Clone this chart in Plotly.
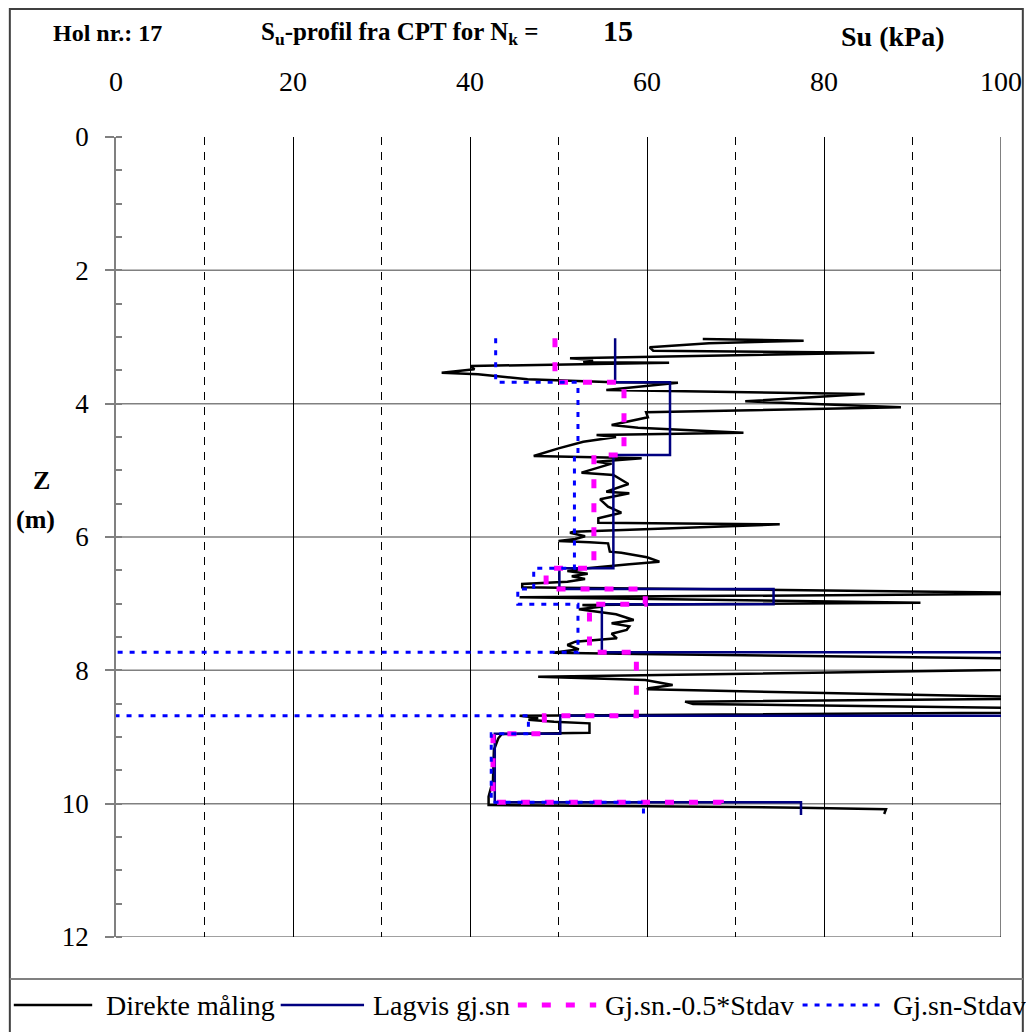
import plotly.graph_objects as go

# ---------------- data ----------------
# Direkte måling (CPT-derived Su), depth in m, Su in kPa
z_direct = [3.03, 3.055, 3.095, 3.155, 3.205, 3.235, 3.32, 3.345, 3.38, 3.385,
            3.435, 3.485, 3.535, 3.56, 3.635, 3.68, 3.685, 3.795, 3.855, 3.965,
            4.055, 4.13, 4.205, 4.32, 4.36, 4.435, 4.47, 4.5, 4.57, 4.67,
            4.785, 4.82, 4.87, 4.9, 5.035, 5.07, 5.205, 5.32, 5.345, 5.435,
            5.545, 5.635, 5.72, 5.785, 5.81, 5.92, 5.935, 5.99, 6.03, 6.06,
            6.08, 6.095, 6.22, 6.235, 6.305, 6.37, 6.41, 6.47, 6.51, 6.55,
            6.59, 6.63, 6.67, 6.705, 6.755, 6.76, 6.845, 6.905, 6.985, 7.02,
            7.045, 7.085, 7.16, 7.245, 7.295, 7.34, 7.395, 7.45, 7.52, 7.57,
            7.62, 7.685, 7.735, 7.755, 7.90, 8.095, 8.145, 8.22, 8.27, 8.285,
            8.42, 8.47, 8.505, 8.61, 8.68, 8.71, 8.74, 8.77, 8.795, 8.935,
            8.955, 9.02, 9.195, 9.645, 9.895, 10.02, 10.04, 10.06, 10.085, 10.155]
su_direct = [66.3, 77.7, 67.0, 60.3, 60.7, 85.7, 51.3, 53.9, 52.8, 62.5,
             40.1, 40.5, 36.8, 40.9, 46.5, 56.2, 63.5, 55.4, 84.6, 71.1,
             88.7, 59.9, 60.1, 56.0, 59.0, 70.9, 54.3, 56.5, 52.8, 50.0,
             47.2, 59.4, 54.3, 56.0, 52.6, 56.2, 57.9, 55.4, 58.0, 54.7,
             55.6, 57.1, 54.5, 54.5, 75.0, 51.7, 51.3, 53.0, 51.9, 50.0,
             53.5, 55.6, 55.8, 57.1, 60.0, 61.4, 58.0, 53.2, 51.0, 53.3,
             51.5, 53.0, 51.0, 45.9, 45.9, 50.2, 110.0, 45.6, 90.9, 52.7,
             54.8, 52.3, 56.5, 58.5, 56.0, 58.0, 57.7, 56.0, 56.6, 51.9,
             51.0, 52.3, 49.4, 58.9, 150.0, 47.7, 59.8, 62.9, 60.2, 60.0,
             110.0, 64.3, 65.2, 130.0, 45.6, 47.7, 46.6, 49.5, 53.5, 53.5,
             43.6, 43.2, 42.7, 42.6, 42.1, 42.1, 60.2, 77.4, 87.0, 86.8]

# Layers (top / bottom depth) and layer statistics
layer_top = [3.02, 3.68, 4.77, 6.47, 6.78, 7.01, 7.73, 8.68, 8.95, 9.98]
layer_bot = [3.68, 4.77, 6.47, 6.78, 7.01, 7.73, 8.68, 8.95, 9.98, 10.17]
lagvis = [56.4, 62.6, 56.2, 50.1, 74.3, 54.9, 130.0, 50.2, 42.8, 77.4]
minus_half_sd = [49.6, 57.4, 54.0, 48.6, 59.8, 53.5, 58.8, 48.4, 42.6, 68.4]
minus_sd = [42.9, 52.2, 51.8, 47.2, 45.4, 52.2, -12.4, 46.6, 42.4, 59.6]

x_ticks = [0, 20, 40, 60, 80, 100]
y_ticks = [0, 2, 4, 6, 8, 10, 12]
y_grid = [2, 4, 6, 8, 10, 12]

legend_names = ["Direkte måling", "Lagvis gj.sn", "Gj.sn.-0.5*Stdav", "Gj.sn-Stdav"]

# ---------------- helpers ----------------
def steps(vals):
    xs, ys = [], []
    for v, t, b in zip(vals, layer_top, layer_bot):
        xs += [v, v]
        ys += [t, b]
    return xs, ys

FONT = "Liberation Serif, Times New Roman, serif"
# the page body has an 8px margin, so the figure is a bit smaller than the window
W, H = 1026, 1024
ML, MR, MT, MB = 108, 26, 129, 95
PW, PH = W - ML - MR, H - MT - MB
OFF = 8  # screen offset of the figure

def px(xs):  # screen x -> paper
    return (xs - OFF - ML) / PW

def py(ys):  # screen y -> paper
    return (H - MB - (ys - OFF)) / PH

styles = [
    dict(color="#000000", width=2.5),
    dict(color="#000080", width=2.5),
    dict(color="#ff00ff", width=5, dash="9px,15px"),
    dict(color="#0000ff", width=3, dash="5px,7px"),
]

fig = go.Figure()
fig.add_trace(go.Scatter(x=su_direct, y=z_direct, mode="lines", line=styles[0],
                         name=legend_names[0], showlegend=False))
for vals, st, nm in [(lagvis, styles[1], legend_names[1]),
                     (minus_half_sd, styles[2], legend_names[2]),
                     (minus_sd, styles[3], legend_names[3])]:
    xs, ys = steps(vals)
    fig.add_trace(go.Scatter(x=xs, y=ys, mode="lines", line=st, name=nm,
                             showlegend=False))

shapes = []
# horizontal grid lines
for g in y_grid:
    shapes.append(dict(type="line", xref="paper", yref="y", x0=0, x1=1, y0=g, y1=g,
                       line=dict(color="#808080", width=1.5), layer="below"))
# right edge line at 100
shapes.append(dict(type="line", xref="x", yref="paper", x0=100, x1=100, y0=0, y1=1,
                   line=dict(color="#000000", width=1), layer="below"))
# outer frame
shapes.append(dict(type="rect", xref="paper", yref="paper",
                   x0=px(9), x1=px(1030), y0=py(1045), y1=py(9),
                   line=dict(color="#404040", width=2), fillcolor="rgba(0,0,0,0)"))
# legend box top line
shapes.append(dict(type="line", xref="paper", yref="paper",
                   x0=px(9), x1=px(1030), y0=py(979), y1=py(979),
                   line=dict(color="#808080", width=2)))

# manual legend
leg_y = 1005
leg_items = [(13, 92, 104), (282, 366, 373), (521, 600, 607), (808, 887, 897)]
annotations = []
for (x0, x1, xt), st, nm in zip(leg_items, styles, legend_names):
    shapes.append(dict(type="line", xref="paper", yref="paper",
                       x0=px(x0), x1=px(x1), y0=py(leg_y), y1=py(leg_y), line=st))
    annotations.append(dict(xref="paper", yref="paper", x=px(xt), y=py(leg_y),
                            text=nm, showarrow=False, xanchor="left", yanchor="middle",
                            font=dict(family=FONT, size=28, color="black")))

# titles
def title(text, xc, yc, size):
    annotations.append(dict(xref="paper", yref="paper", x=px(xc), y=py(yc), text=text,
                            showarrow=False, xanchor="center", yanchor="middle",
                            font=dict(family=FONT, size=size, color="black")))

title("<b>Hol nr.: 17</b>", 107, 33, 24)
title("<b>S<sub>u</sub>-profil fra CPT for N<sub>k</sub> =</b>", 402, 33, 25)
title("<b>15</b>", 622, 31, 30)
title("<b>Su (kPa)</b>", 899, 36, 28)
title("<b>Z</b>", 41, 480, 26)
title("<b>(m)</b>", 35, 519, 26)

fig.update_layout(
    width=W, height=H,
    margin=dict(l=ML, r=MR, t=MT, b=MB, pad=0),
    paper_bgcolor="white", plot_bgcolor="white",
    font=dict(family=FONT, color="black"),
    shapes=shapes, annotations=annotations,
    showlegend=False,
)
fig.update_xaxes(
    range=[0, 100], side="top", tickvals=x_ticks, ticktext=[str(v) for v in x_ticks],
    ticks="", showline=False, zeroline=False,
    showgrid=True, gridcolor="#000000", gridwidth=1,
    minor=dict(dtick=10, showgrid=True, gridcolor="#000000", gridwidth=1, griddash="8px,7px"),
    tickfont=dict(family=FONT, size=28, color="black"),
    ticklabelstandoff=39,
)
fig.update_yaxes(
    range=[12, 0], tickvals=y_ticks, ticktext=[str(v) for v in y_ticks],
    ticks="outside", ticklen=9, tickcolor="#808080", tickwidth=1.5,
    showline=True, linecolor="#808080", linewidth=1.5,
    showgrid=False, zeroline=False,
    minor=dict(dtick=0.5, ticks="inside", ticklen=6, tickcolor="#808080", tickwidth=1.5, showgrid=False),
    tickfont=dict(family=FONT, size=27, color="black"),
    ticklabelstandoff=11,
)

fig.write_html("out.html")
